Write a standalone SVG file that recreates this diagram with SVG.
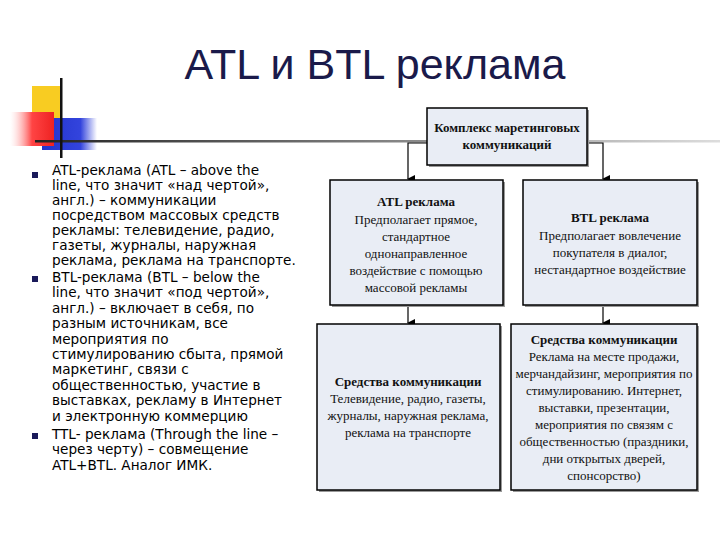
<svg xmlns="http://www.w3.org/2000/svg" width="720" height="540" viewBox="0 0 720 540">
<defs>
<linearGradient id="hl" x1="0" x2="1"><stop offset="0" stop-color="#222"/><stop offset="1" stop-color="#ddd"/></linearGradient>
<linearGradient id="rd" x1="0" x2="1"><stop offset="0" stop-color="#fff" stop-opacity="0.3"/><stop offset="0.5" stop-color="#f44"/><stop offset="1" stop-color="#e22"/></linearGradient>
<linearGradient id="bl" x1="0" x2="1"><stop offset="0" stop-color="#2233cc"/><stop offset="0.7" stop-color="#3344dd"/><stop offset="1" stop-color="#fff"/></linearGradient>
<marker id="ar" markerWidth="8" markerHeight="8" refX="4" refY="7" orient="auto" markerUnits="userSpaceOnUse"><path d="M0,0 L8,0 L4,8 Z" fill="#000"/></marker>
</defs>
<style>
.b{fill:#e9edf5;stroke:#000;stroke-width:1.5}
.s{fill:#999}
.t{font-family:"Liberation Serif",serif;font-size:13px;text-anchor:middle;fill:#111}
.h{font-weight:bold}
.l{font-family:"DejaVu Sans",sans-serif;font-size:13.6px;fill:#000}
.c{stroke:#000;stroke-width:1.2;fill:none}
</style>
<rect width="720" height="540" fill="#fff"/>
<text x="375" y="79" font-family="Liberation Sans,sans-serif" font-size="43" text-anchor="middle" fill="#1a1a4a">ATL и BTL реклама</text>
<g id="deco">
<rect x="32" y="86" width="30" height="32" fill="#f8cc22"/>
<rect x="42" y="118" width="55" height="32" fill="url(#bl)"/>
<rect x="10" y="112" width="44" height="34" fill="url(#rd)"/>
<rect x="35" y="140" width="685" height="2.5" fill="url(#hl)"/>
<rect x="60" y="78" width="2.5" height="80" fill="#111"/>
</g>
<g id="bullets" fill="#1a1a5a">
<rect x="32" y="172" width="6" height="6"/><rect x="32" y="276" width="6" height="6"/><rect x="32" y="433" width="6" height="6"/>
</g>
<g id="text" class="l">
<text x="52" y="175">ATL-реклама (ATL – above the</text>
<text x="52" y="190">line, что значит «над чертой»,</text>
<text x="52" y="205">англ.) – коммуникации</text>
<text x="52" y="220">посредством массовых средств</text>
<text x="52" y="235">рекламы: телевидение, радио,</text>
<text x="52" y="250">газеты, журналы, наружная</text>
<text x="52" y="265">реклама, реклама на транспорте.</text>
<text x="52" y="282">BTL-реклама (BTL – below the</text>
<text x="52" y="297">line, что значит «под чертой»,</text>
<text x="52" y="313">англ.) – включает в себя, по</text>
<text x="52" y="328">разным источникам, все</text>
<text x="52" y="344">мероприятия по</text>
<text x="52" y="359">стимулированию сбыта, прямой</text>
<text x="52" y="374">маркетинг, связи с</text>
<text x="52" y="390">общественностью, участие в</text>
<text x="52" y="405">выставках, рекламу в Интернет</text>
<text x="52" y="421">и электронную коммерцию</text>
<text x="52" y="439">TTL- реклама (Through the line –</text>
<text x="52" y="454">через черту) – совмещение</text>
<text x="52" y="470">ATL+BTL. Аналог ИМК.</text>
</g>
<g id="connectors">
<path class="c" d="M427,143 H408 V179" marker-end="url(#ar)"/>
<path class="c" d="M587,143 H603 V179" marker-end="url(#ar)"/>
<path class="c" d="M408,305 V323" marker-end="url(#ar)"/>
<path class="c" d="M603,305 V323" marker-end="url(#ar)"/>
</g>
<g id="top"><rect class="s" x="429" y="110" width="160" height="57"/><rect class="b" x="427" y="108" width="160" height="57"/>
<text class="t h" x="507" y="132">Комплекс маретинговых</text><text class="t h" x="507" y="149">коммуникаций</text></g>
<g id="atl"><rect class="s" x="332" y="182" width="173" height="125"/><rect class="b" x="330" y="180" width="173" height="125"/>
<text class="t h" x="416" y="206">ATL реклама</text><text class="t" x="416" y="224">Предполагает прямое,</text><text class="t" x="416" y="241">стандартное</text><text class="t" x="416" y="258">однонаправленное</text><text class="t" x="416" y="275">воздействие с помощью</text><text class="t" x="416" y="292">массовой рекламы</text></g>
<g id="btl"><rect class="s" x="525" y="182" width="174" height="125"/><rect class="b" x="523" y="180" width="174" height="125"/>
<text class="t h" x="610" y="222">BTL реклама</text><text class="t" x="610" y="240">Предполагает вовлечение</text><text class="t" x="610" y="257">покупателя в диалог,</text><text class="t" x="610" y="274">нестандартное воздействие</text></g>
<g id="atlm"><rect class="s" x="319" y="326" width="183" height="166"/><rect class="b" x="317" y="324" width="183" height="166"/>
<text class="t h" x="408" y="386">Средства коммуникации</text><text class="t" x="408" y="403">Телевидение, радио, газеты,</text><text class="t" x="408" y="420">журналы, наружная реклама,</text><text class="t" x="408" y="437">реклама на транспорте</text></g>
<g id="btlm"><rect class="s" x="513" y="326" width="186" height="166"/><rect class="b" x="511" y="324" width="186" height="166"/>
<text class="t h" x="604" y="344">Средства коммуникации</text><text class="t" x="604" y="361">Реклама на месте продажи,</text><text class="t" x="604" y="378">мерчандайзинг, мероприятия по</text><text class="t" x="604" y="395">стимулированию. Интернет,</text><text class="t" x="604" y="412">выставки, презентации,</text><text class="t" x="604" y="429">мероприятия по связям с</text><text class="t" x="604" y="446">общественностью (праздники,</text><text class="t" x="604" y="463">дни открытых дверей,</text><text class="t" x="604" y="480">спонсорство)</text></g>
</svg>
